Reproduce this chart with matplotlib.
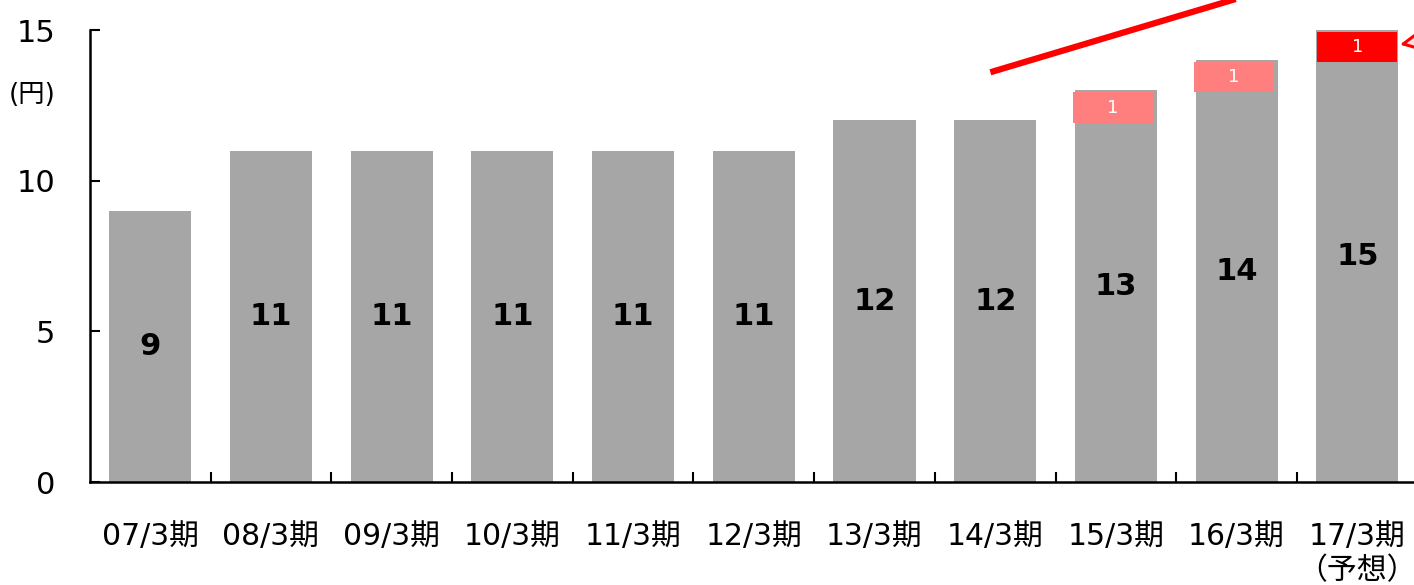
import matplotlib
matplotlib.use('Agg')
import matplotlib.pyplot as plt
import numpy as np

plt.rcParams['font.family'] = ['DejaVu Sans', 'Noto Sans CJK JP']

periods = ['07/3期', '08/3期', '09/3期', '10/3期', '11/3期', '12/3期',
           '13/3期', '14/3期', '15/3期', '16/3期', '17/3期\n（予想）']
dividend = [9, 11, 11, 11, 11, 11, 12, 12, 13, 14, 15]
# the small "+1" boxes sitting on top of the last three bars
extra_idx = [8, 9, 10]
extra_val = [1, 1, 1]
extra_colors = ['#FF7F7F', '#FF7F7F', '#FF0000']

fig = plt.figure(figsize=(14.14, 5.85), dpi=100)
ax = fig.add_axes([0.0636, 0.176, 0.939, 0.7726])

x = np.arange(len(periods))
ax.bar(x, dividend, width=0.68, color='#A6A6A6', zorder=2)
for i, v in zip(x, dividend):
    ax.text(i, v / 2, str(v), ha='center', va='center', fontsize=22,
            fontweight='bold', color='black', zorder=3)

# boxes a touch below the bar top, the pink ones shifted a little left
for k, (i, v, c) in enumerate(zip(extra_idx, extra_val, extra_colors)):
    shift = -0.025 if k < 2 else 0.0
    bottom = dividend[i] - v - 0.07
    ax.bar(i + shift, v, bottom=bottom, width=0.66, color=c, zorder=3)
    ax.text(i + shift, bottom + v / 2, str(v), ha='center', va='center',
            fontsize=13, color='white', zorder=4)

# red trend line running off the top of the chart
ax.plot([6.96, 9.05], [13.6, 16.1], color='#FF0000', lw=4.5,
        solid_capstyle='butt', clip_on=False, zorder=5)
ax.annotate('', xy=(10.33, 14.5), xytext=(11.0, 15.0),
            arrowprops=dict(arrowstyle='-|>', color='#FF0000', lw=2.2,
                            mutation_scale=32, fc='#FFE0E0'),
            annotation_clip=False)

ax.set_xlim(-0.5, 10.5)
ax.set_ylim(0, 15)
ax.set_yticks([0, 5, 10, 15])
ax.tick_params(axis='y', direction='in', length=7, width=1.5, pad=25,
               labelsize=22)
ax.set_xticks(x)
ax.set_xticklabels(periods)
ax.tick_params(axis='x', which='major', length=0, pad=29, labelsize=21.5)
ax.set_xticks(np.arange(0.5, 10.5, 1), minor=True)
ax.tick_params(axis='x', which='minor', direction='in', length=7, width=1.5)

for s in ['top', 'right']:
    ax.spines[s].set_visible(False)
for s in ['left', 'bottom']:
    ax.spines[s].set_linewidth(1.8)
    ax.spines[s].set_zorder(4)

fig.text(9 / 1414, 1 - 95 / 585, '(円)', fontsize=19, va='center', ha='left')

fig.savefig('out.png', dpi=100)
